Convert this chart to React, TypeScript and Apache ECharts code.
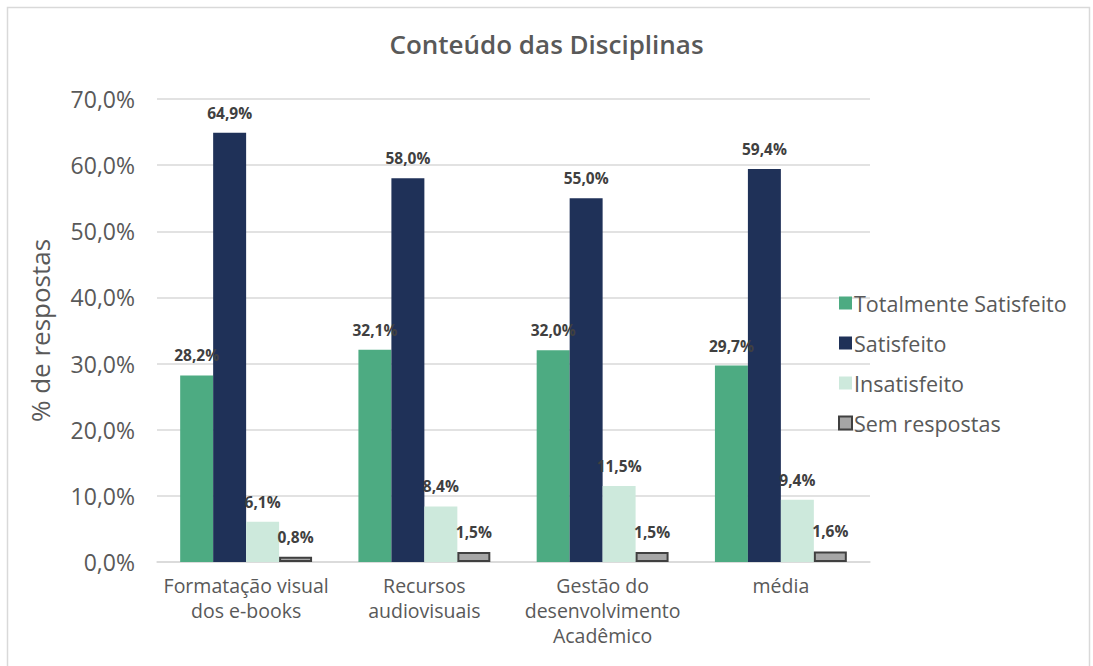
import React, { useEffect, useRef } from "react";
import * as echarts from "echarts";

const categories = [
  "Formatação visual\ndos e-books",
  "Recursos\naudiovisuais",
  "Gestão do\ndesenvolvimento\nAcadêmico",
  "média",
];
const seriesNames = ["Totalmente Satisfeito", "Satisfeito", "Insatisfeito", "Sem respostas"];
const totalmenteSatisfeito = [28.2, 32.1, 32.0, 29.7];
const satisfeito = [64.9, 58.0, 55.0, 59.4];
const insatisfeito = [6.1, 8.4, 11.5, 9.4];
const semRespostas = [0.8, 1.5, 1.5, 1.6];
const yTicks = { min: 0, max: 70, interval: 10 };

const colors = ["#4dab82", "#1f3158", "#cde9dc", "#a6a6a6"];
const FONT = "'Open Sans', Lato, sans-serif";

const fmt = (v: number) => v.toFixed(1).replace(".", ",") + "%";

export default function App() {
  const ref = useRef<HTMLDivElement>(null);
  useEffect(() => {
    if (!ref.current) return;
    const chart = echarts.init(ref.current, null, { renderer: "svg" });
    const values = [totalmenteSatisfeito, satisfeito, insatisfeito, semRespostas];
    chart.setOption({
      animation: false,
      textStyle: { fontFamily: FONT },
      title: {
        text: "Conteúdo das Disciplinas",
        left: "center",
        top: 26,
        textStyle: { fontFamily: FONT, fontSize: 26, fontWeight: 600, color: "#595959" },
      },
      graphic: [
        {
          type: "rect",
          shape: { x: 7.5, y: 7.5, width: 1082, height: 680 },
          style: { fill: "none", stroke: "#d9d9d9", lineWidth: 1.5 },
          silent: true,
        },
      ],
      legend: {
        orient: "vertical",
        left: 833,
        top: 287,
        itemGap: 18,
        itemWidth: 13,
        itemHeight: 13,
        icon: "rect",
        data: seriesNames,
        textStyle: { fontFamily: FONT, fontSize: 21.5, color: "#595959", padding: [0, 0, 0, -3] },
      },
      grid: { left: 157, right: 223, top: 99, bottom: 104 },
      xAxis: {
        type: "category",
        data: categories,
        axisLine: { lineStyle: { color: "#d9d9d9", width: 1.5 } },
        axisTick: { show: false },
        axisLabel: {
          interval: 0,
          fontFamily: FONT,
          fontSize: 19.5,
          color: "#595959",
          lineHeight: 25,
          margin: 11,
        },
      },
      yAxis: {
        type: "value",
        min: yTicks.min,
        max: yTicks.max,
        interval: yTicks.interval,
        name: "% de respostas",
        nameLocation: "middle",
        nameRotate: 90,
        nameGap: 104,
        nameTextStyle: { fontFamily: FONT, fontSize: 26, color: "#595959" },
        axisLine: { show: false },
        axisTick: { show: false },
        splitLine: { lineStyle: { color: "#d9d9d9", width: 1.5 } },
        axisLabel: {
          fontFamily: FONT,
          fontSize: 23,
          color: "#595959",
          margin: 22,
          formatter: (v: number) => fmt(v),
        },
      },
      series: seriesNames.map((name, i) => ({
        name,
        type: "bar",
        data: values[i],
        barGap: "0%",
        barCategoryGap: "26%",
        itemStyle:
          i === 3
            ? { color: colors[i], borderColor: "#404040", borderWidth: 2 }
            : { color: colors[i] },
        label: {
          show: true,
          position: "top",
          distance: 12,
          fontFamily: FONT,
          fontSize: 15.5,
          fontWeight: "bold",
          color: "#404040",
          formatter: (p: any) => fmt(p.value),
        },
      })),
    });
    return () => chart.dispose();
  }, []);
  return (
    <div
      ref={ref}
      style={{ position: "fixed", left: 0, top: 0, width: 1093, height: 666, background: "#fff" }}
    />
  );
}
